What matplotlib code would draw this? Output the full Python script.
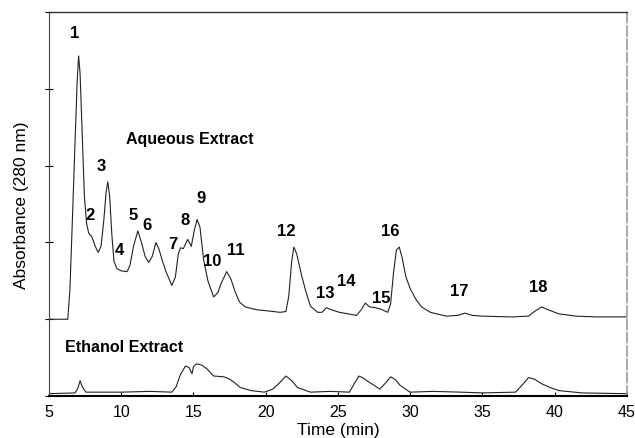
import matplotlib
matplotlib.use("Agg")
import matplotlib.pyplot as plt

plt.rcParams['font.family'] = ['Liberation Sans', 'DejaVu Sans']

# Aqueous extract trace (time in min, absorbance in arbitrary units)
aq_time = [5.0, 6.3, 6.45, 6.6, 6.8, 6.95, 7.05, 7.15, 7.3, 7.45, 7.6, 7.75, 7.95, 8.2, 8.4,
           8.6, 8.8, 8.95, 9.07, 9.2, 9.35, 9.5, 9.7, 10.0, 10.4, 10.6, 10.85, 11.15, 11.4, 11.65,
           11.9, 12.15, 12.4, 12.6, 12.85, 13.1, 13.5, 13.75, 13.95, 14.1, 14.3, 14.6, 14.85, 15.05, 15.25,
           15.45, 15.7, 16.0, 16.4, 16.7, 16.9, 17.3, 17.6, 17.9, 18.2, 18.6, 19.0, 19.5, 20.1, 21.0,
           21.4, 21.6, 21.8, 21.95, 22.15, 22.5, 22.8, 23.1, 23.6, 23.9, 24.2, 24.6, 25.1, 25.7, 26.3,
           26.6, 26.9, 27.2, 27.6, 28.0, 28.45, 28.65, 28.85, 29.05, 29.25, 29.45, 29.7, 30.0, 30.4, 30.8,
           31.4, 32.5, 33.3, 33.8, 34.3, 35.0, 37.0, 38.2, 38.6, 39.1, 39.6, 40.3, 41.5, 43.0, 45.0]
aq_abs = [1.0, 1.0, 1.4, 2.2, 3.3, 4.1, 4.43, 4.2, 3.4, 2.6, 2.25, 2.12, 2.08, 1.95, 1.87,
          1.95, 2.3, 2.65, 2.79, 2.6, 2.1, 1.75, 1.66, 1.63, 1.62, 1.70, 1.95, 2.15, 2.0, 1.82,
          1.74, 1.82, 2.0, 1.92, 1.76, 1.62, 1.44, 1.55, 1.85, 1.93, 1.92, 2.04, 1.95, 2.15, 2.30,
          2.2, 1.78, 1.50, 1.29, 1.35, 1.46, 1.62, 1.52, 1.35, 1.22, 1.16, 1.14, 1.12, 1.11, 1.09,
          1.10, 1.3, 1.75, 1.94, 1.85, 1.56, 1.35, 1.17, 1.09, 1.09, 1.15, 1.12, 1.09, 1.07, 1.05,
          1.12, 1.21, 1.16, 1.15, 1.13, 1.09, 1.2, 1.6, 1.9, 1.94, 1.8, 1.56, 1.4, 1.26, 1.16,
          1.09, 1.04, 1.05, 1.08, 1.05, 1.04, 1.03, 1.04, 1.1, 1.16, 1.12, 1.07, 1.04, 1.03, 1.03]

# Ethanol extract trace
et_time = [5.0, 6.8, 7.0, 7.15, 7.3, 7.55, 8.0, 10.0, 12.0, 13.5, 13.8, 14.1, 14.45, 14.7, 14.9,
           15.0, 15.2, 15.6, 15.95, 16.4, 17.1, 17.5, 17.8, 18.25, 19.0, 19.9, 20.5, 21.0, 21.4, 21.8,
           22.2, 23.1, 24.5, 25.8, 26.1, 26.45, 26.7, 27.0, 27.5, 27.9, 28.3, 28.65, 29.0, 29.3, 30.0,
           31.6, 33.5, 35.0, 37.3, 37.8, 38.2, 38.6, 39.1, 39.7, 40.3, 41.9, 45.0]
et_abs = [0.03, 0.04, 0.1, 0.2, 0.12, 0.05, 0.05, 0.05, 0.06, 0.05, 0.12, 0.28, 0.39, 0.37, 0.29,
          0.38, 0.42, 0.40, 0.35, 0.26, 0.25, 0.22, 0.18, 0.11, 0.07, 0.05, 0.09, 0.18, 0.26, 0.2,
          0.11, 0.05, 0.06, 0.05, 0.15, 0.26, 0.24, 0.2, 0.14, 0.09, 0.17, 0.25, 0.21, 0.14, 0.05,
          0.06, 0.05, 0.04, 0.05, 0.15, 0.24, 0.22, 0.16, 0.11, 0.07, 0.04, 0.03]

# Peak labels and their positions
peak_labels = ['1', '2', '3', '4', '5', '6', '7', '8', '9', '10', '11', '12', '13', '14', '15', '16', '17', '18']
peak_x = [6.8, 7.85, 8.6, 9.85, 10.8, 11.8, 13.6, 14.45, 15.5, 16.3, 17.9, 21.4, 24.1, 25.6, 28.0, 28.6, 33.4, 38.9]
peak_y = [4.74, 2.37, 3.0, 1.91, 2.37, 2.24, 1.98, 2.3, 2.58, 1.76, 1.91, 2.15, 1.35, 1.50, 1.28, 2.16, 1.37, 1.43]

x_ticks = [5, 10, 15, 20, 25, 30, 35, 40, 45]
y_ticks = [0, 1, 2, 3, 4, 5]

fig = plt.figure(figsize=(6.35, 4.39), dpi=100)
ax = fig.add_axes([0.0772, 0.0957, 0.9098, 0.8743])

ax.plot(aq_time, aq_abs, color='#222222', lw=0.8)
ax.plot(et_time, et_abs, color='#222222', lw=0.8)

for lab, px, py in zip(peak_labels, peak_x, peak_y):
    ax.text(px, py, lab, fontsize=12, fontweight='bold', ha='center', va='center', color='black')

ax.text(10.3, 3.35, 'Aqueous Extract', fontsize=11.5, fontweight='bold', ha='left', va='center')
ax.text(6.1, 0.65, 'Ethanol Extract', fontsize=11.5, fontweight='bold', ha='left', va='center')

ax.set_xlim(5, 45)
ax.set_ylim(0, 5)
ax.set_xticks(x_ticks)
ax.set_xticklabels([str(v) for v in x_ticks], fontsize=11.5)
ax.set_yticks(y_ticks)
ax.set_yticklabels([])
ax.tick_params(axis='x', direction='in', length=3, width=0.8, pad=6)
ax.tick_params(axis='y', direction='inout', length=6, width=0.8)

ax.set_xlabel('Time (min)', fontsize=12.5, labelpad=2)
ax.set_ylabel('Absorbance (280 nm)', fontsize=12.5, labelpad=8)

ax.spines['bottom'].set_linewidth(1.5)
ax.spines['left'].set_linewidth(0.8)
ax.spines['left'].set_color('#444444')
ax.spines['top'].set_linewidth(1.0)
ax.spines['top'].set_color('#333333')
ax.spines['right'].set_linewidth(1.2)
ax.spines['right'].set_color('#999999')
ax.spines['right'].set_linestyle((0, (6, 2)))

fig.savefig('out.png', dpi=100)
